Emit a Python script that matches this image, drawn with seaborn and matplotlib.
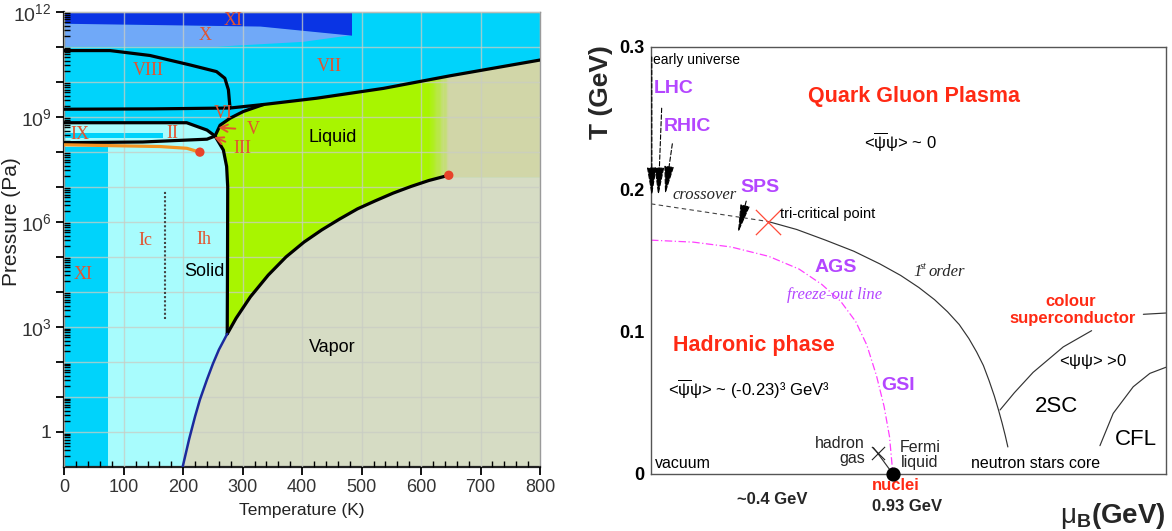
import numpy as np
import matplotlib
matplotlib.use("Agg")
import matplotlib.pyplot as plt
import seaborn as sns
from matplotlib.ticker import FixedLocator, FuncFormatter, MultipleLocator, LogLocator, NullFormatter

sns.set_theme(style="ticks")
plt.rcParams.update({
    "font.family": ["Liberation Sans", "DejaVu Sans"],
    "mathtext.fontset": "custom",
    "mathtext.rm": "Liberation Sans",
    "mathtext.it": "Liberation Sans:italic",
    "mathtext.bf": "Liberation Sans:bold",
})

# ---------------- water: temperature (K) and log10 pressure (Pa) ----------------
sub_T = [199, 210, 220, 228, 240, 250, 260, 274]
sub_logP = [-1.0, -0.2, 0.45, 0.92, 1.5, 1.95, 2.35, 2.8]

vap_T = [274, 289, 313, 343, 373, 403, 433, 463, 493, 523, 553, 583, 613, 646.6]
vap_logP = [2.8, 3.25, 3.86, 4.48, 5.0, 5.42, 5.77, 6.08, 6.37, 6.60, 6.82, 7.01, 7.18, 7.33]

melt_Ih_T = [274, 274.5, 274.8, 273, 267.5, 253.5]
melt_Ih_logP = [2.8, 5.0, 7.0, 7.58, 8.05, 8.45]

melt_VI_T = [253.5, 262, 279, 301, 335]
melt_VI_logP = [8.45, 8.76, 8.96, 9.15, 9.35]

melt_VII_T = [335, 424.5, 536.5, 648.7, 800]
melt_VII_logP = [9.35, 9.53, 9.81, 10.17, 10.62]

vi_upper_T = [0, 150, 278.7, 335]
vi_upper_logP = [9.215, 9.225, 9.25, 9.35]

viii_T = [0, 77, 144, 211.5, 256, 270, 276, 278.7]
viii_logP = [10.89, 10.89, 10.75, 10.48, 10.29, 10.10, 9.77, 9.25]

vi_lower_T = [0, 205.8, 240, 253.5]
vi_lower_logP = [8.83, 8.83, 8.62, 8.45]

ii_lower_T = [0, 132, 240, 253.5]
ii_lower_logP = [8.26, 8.28, 8.36, 8.45]

meta_T = [0, 161, 206, 228]
meta_logP = [8.20, 8.15, 8.10, 7.99]

xi_top_T = [0, 329, 483]
xi_top_logP = [11.67, 11.59, 11.33]
x_low_T = [0, 256, 402, 483]
x_low_logP = [11.0, 11.0, 11.14, 11.33]

crit_T, crit_logP = 646.6, 7.33
meta_end_T, meta_end_logP = 228, 7.99

ic_ih_T = 170
ic_ih_logP = [3.24, 6.87]

water_labels = [
    ("XI", 284, 11.74), ("X", 236, 11.32), ("VIII", 141, 10.33), ("VII", 446, 10.43),
    ("VI", 268, 9.08), ("IX", 27, 8.49), ("II", 182, 8.52),
    ("Ic", 137, 5.47), ("Ih", 235, 5.49), ("XI", 32, 4.5),
]
water_phases = [("Solid", 236, 4.59), ("Liquid", 451, 8.42), ("Vapor", 451, 2.42)]

# ---------------- QCD: baryon chemical potential (GeV) and temperature (GeV) ----------------
first_mu = [0.450, 0.560, 0.671, 0.780, 0.880, 0.960, 1.030, 1.090, 1.140, 1.185, 1.222,
            1.252, 1.278, 1.300, 1.320, 1.336, 1.350, 1.362, 1.372]
first_T = [0.1774, 0.1718, 0.1643, 0.1565, 0.1476, 0.1395, 0.131, 0.1225, 0.114, 0.105,
           0.0952, 0.0857, 0.0762, 0.0655, 0.0548, 0.045, 0.0357, 0.027, 0.019]

cross_mu = [0.0, 0.450]
cross_T = [0.1898, 0.1774]

freeze_mu = [0.0, 0.163, 0.308, 0.453, 0.569, 0.656, 0.729, 0.787, 0.830, 0.867, 0.896, 0.917, 0.93]
freeze_T = [0.1643, 0.1629, 0.1595, 0.1529, 0.1440, 0.1333, 0.1214, 0.1071, 0.0905, 0.0690, 0.0476, 0.0262, 0.0]

csc_mu = [1.342, 1.397, 1.469, 1.585, 1.694]
csc_T = [0.045, 0.0571, 0.0714, 0.0893, 0.1007]
csc2_mu = [1.893, 1.98]
csc2_T = [0.1122, 0.1131]

cfl_mu = [1.726, 1.777, 1.854, 1.918, 1.98]
cfl_T = [0.0199, 0.0426, 0.0613, 0.0707, 0.075]

lg_mu = [0.855, 0.872, 0.93]
lg_T = [0.0185, 0.0145, 0.0]

tricrit = (0.450, 0.1774)
lg_end = (0.872, 0.0145)
nuclei = (0.93, 0.0)

# arrows: (tail mu, tail T, head mu, head T)
beam_arrows = [
    (0.003, 0.293, 0.003, 0.195),
    (0.041, 0.257, 0.028, 0.195),
    (0.082, 0.232, 0.054, 0.196),
    (0.366, 0.1917, 0.334, 0.169),
]

# ---------------- colours ----------------
CYAN = "#00d3fb"
LIGHT_CYAN = "#a8fcfd"
DARK_BLUE = "#0a34e4"
MID_BLUE = "#70a9f8"
GREEN = np.array([168, 245, 0]) / 255
KHAKI = np.array([209, 214, 168]) / 255
VAPOR = "#d6dcc4"
ROMAN = "#e2542f"
PURPLE = "#b446ff"
RED = "#ff2a14"


def p(a):
    return np.power(10.0, np.asarray(a, dtype=float))


fig = plt.figure(figsize=(11.72, 5.31), dpi=100)

# ================= left panel: phase diagram of water =================
axL = fig.add_axes([64.3 / 1172, 1 - 467 / 531, (540 - 64.3) / 1172, (467 - 11.7) / 531])
axL.set_yscale("log")
axL.set_xlim(0, 800)
axL.set_ylim(1e-1, 1e12)
axL.set_facecolor(CYAN)

# liquid region
liq_T = np.r_[melt_Ih_T, melt_VI_T[1:], melt_VII_T[1:], [800, crit_T], vap_T[::-1]]
liq_P = np.r_[melt_Ih_logP, melt_VI_logP[1:], melt_VII_logP[1:], [7.27, 7.27], vap_logP[::-1]]
axL.fill(liq_T, p(liq_P), color=GREEN, lw=0, zorder=0.5)

# supercritical fluid, blending out of the liquid colour
edges = np.linspace(612, 646, 18)
for i in range(len(edges) - 1):
    f = (i + 0.5) / (len(edges) - 1)
    col = (1 - f) * GREEN + f * KHAKI
    xs = np.array([edges[i], edges[i + 1] + 0.4])
    top = np.interp(xs, melt_VII_T, melt_VII_logP)
    axL.fill_between(xs, p([6.8, 6.8]), p(top), color=col, lw=0, zorder=0.6)
xs = np.array([646, 648.7, 800])
axL.fill_between(xs, p([7.27] * 3), p(np.interp(xs, melt_VII_T, melt_VII_logP)),
                 color=KHAKI, lw=0, zorder=0.6)

# vapour region
vap_poly_T = np.r_[sub_T, vap_T[1:], [crit_T, 800, 800]]
vap_poly_P = np.r_[sub_logP, vap_logP[1:], [7.27, 7.27, -1]]
axL.fill(vap_poly_T, p(vap_poly_P), color=VAPOR, lw=0, zorder=0.7)

# ordinary ice and ice II
ice_T = np.r_[[0], vi_lower_T, melt_Ih_T[::-1], sub_T[::-1]]
ice_P = np.r_[[-1], vi_lower_logP, melt_Ih_logP[::-1], sub_logP[::-1]]
axL.fill(ice_T, p(ice_P), color=LIGHT_CYAN, lw=0, zorder=0.8)

# ice XI (low T) and ice IX
axL.fill_between([0, 74], p([-1, -1]), p([8.15, 8.15]), color=CYAN, lw=0, zorder=0.9)
axL.fill_between([0, 166], p([8.39, 8.39]), p([8.55, 8.55]), color=CYAN, lw=0, zorder=0.9)

# ice X and ice XI (very high pressure)
axL.fill(np.r_[x_low_T, xi_top_T[::-1]], p(np.r_[x_low_logP, xi_top_logP[::-1]]),
         color=MID_BLUE, lw=0, zorder=0.9)
axL.fill_between(xi_top_T, p(xi_top_logP), p([12, 12, 12]), color=DARK_BLUE, lw=0, zorder=0.9)

# phase boundaries
black_lines = [
    (vap_T, vap_logP), (melt_Ih_T, melt_Ih_logP), (melt_VI_T, melt_VI_logP),
    (melt_VII_T, melt_VII_logP), (vi_upper_T, vi_upper_logP), (viii_T, viii_logP),
    (vi_lower_T, vi_lower_logP), (ii_lower_T, ii_lower_logP),
]
for tt, lp in black_lines:
    sns.lineplot(x=tt, y=p(lp), sort=False, estimator=None, color="black", lw=2.3,
                 ax=axL, zorder=3)
sns.lineplot(x=sub_T, y=p(sub_logP), sort=False, estimator=None, color="#1c2a9c", lw=1.8,
             ax=axL, zorder=3)
sns.lineplot(x=meta_T, y=p(meta_logP), sort=False, estimator=None, color="#f39322", lw=2.3,
             ax=axL, zorder=3)
axL.plot([ic_ih_T, ic_ih_T], p(ic_ih_logP), color="#444444", ls=(0, (1, 1)), lw=1.5, zorder=3)
sns.scatterplot(x=[crit_T, meta_end_T], y=p([crit_logP, meta_end_logP]), color="#e8432a",
                s=45, edgecolor="none", ax=axL, zorder=4)

for txt, tx, ty in water_labels:
    axL.text(tx, p(ty), txt, color=ROMAN, fontsize=13, family="Liberation Serif",
             ha="center", va="center", zorder=5)
for txt, tx, ty in water_phases:
    axL.text(tx, p(ty), txt, color="black", fontsize=13, ha="center", va="center", zorder=5)

# labels for the two tiny phases near the triple points
axL.annotate("V", xy=(259, p(8.69)), xytext=(318, p(8.63)), color=ROMAN, fontsize=13,
             family="Liberation Serif", ha="center", va="center", zorder=5,
             arrowprops=dict(arrowstyle="->", color=ROMAN, lw=1.4, shrinkA=6, shrinkB=0))
axL.annotate("III", xy=(252, p(8.42)), xytext=(300, p(8.08)), color=ROMAN, fontsize=13,
             family="Liberation Serif", ha="center", va="center", zorder=5,
             arrowprops=dict(arrowstyle="->", color=ROMAN, lw=1.4, shrinkA=4, shrinkB=0))

# axes, ticks and grid
axL.set_axisbelow(False)
axL.xaxis.set_major_locator(MultipleLocator(100))
axL.xaxis.set_minor_locator(MultipleLocator(20))
axL.yaxis.set_major_locator(FixedLocator([10.0 ** k for k in range(0, 13)]))
axL.yaxis.set_minor_locator(LogLocator(base=10, subs=np.arange(2, 10), numticks=40))
axL.yaxis.set_minor_formatter(NullFormatter())


def pa_fmt(v, _):
    k = int(round(np.log10(v)))
    if k % 3:
        return ""
    return "1" if k == 0 else r"$10^{%d}$" % k


axL.yaxis.set_major_formatter(FuncFormatter(pa_fmt))
axL.grid(True, which="major", color="#c9cdc4", lw=1.0, alpha=0.75)
axL.tick_params(which="major", direction="out", length=6, width=1.3, color="black",
                labelcolor="#333333", pad=3)
axL.tick_params(axis="x", which="major", labelsize=13)
axL.tick_params(axis="y", which="major", labelsize=14)
axL.tick_params(which="minor", direction="in", length=4, width=1.0, color="black")
for s in ("bottom", "left"):
    axL.spines[s].set_color("#222222")
    axL.spines[s].set_linewidth(1.6)
for s in ("top", "right"):
    axL.spines[s].set_color("#9a9a9a")
    axL.spines[s].set_linewidth(1.0)
axL.set_xlabel("Temperature (K)", fontsize=12.5, color="#222222")
axL.set_ylabel("Pressure (Pa)", fontsize=15, color="#222222")
axL.xaxis.set_label_coords(0.5, -0.08)
axL.yaxis.set_label_coords(-0.092, 0.54)

# ================= right panel: QCD phase diagram =================
axR = fig.add_axes([651 / 1172, 1 - 474 / 531, 515 / 1172, 427 / 531])
axR.set_xlim(0, 1.98)
axR.set_ylim(0, 0.3)
axR.set_facecolor("white")
for s in axR.spines.values():
    s.set_color("#555555")
    s.set_linewidth(1.0)
axR.set_xticks([])
axR.set_yticks([0, 0.1, 0.2, 0.3])
axR.set_yticklabels(["0", "0.1", "0.2", "0.3"], fontweight="bold")
axR.tick_params(axis="y", length=0, pad=5, labelsize=13, labelcolor="black")
axR.set_xlabel("")
axR.set_ylabel("")

sns.lineplot(x=first_mu, y=first_T, sort=False, estimator=None, color="#333333", lw=0.85, ax=axR)
sns.lineplot(x=cross_mu, y=cross_T, sort=False, estimator=None, color="#444444", lw=0.8,
             ax=axR, linestyle=(0, (4, 3)))
sns.lineplot(x=freeze_mu, y=freeze_T, sort=False, estimator=None, color="#ff40ff", lw=0.9,
             ax=axR, linestyle=(0, (6, 2, 1, 2)))
for mu, tt in ((csc_mu, csc_T), (csc2_mu, csc2_T), (cfl_mu, cfl_T), (lg_mu, lg_T)):
    sns.lineplot(x=mu, y=tt, sort=False, estimator=None, color="#333333", lw=0.85, ax=axR)

for x0, y0, x1, y1 in beam_arrows:
    axR.annotate("", xy=(x1, y1), xytext=(x0, y0),
                 arrowprops=dict(arrowstyle="-|>,head_length=1.8,head_width=0.3",
                                 lw=0.8, ls=(0, (4, 2)), color="black", fc="black",
                                 shrinkA=0, shrinkB=0, mutation_scale=10))

sns.scatterplot(x=[tricrit[0]], y=[tricrit[1]], marker="x", s=330, color="#ff4a38",
                linewidth=0.9, ax=axR, zorder=4)
sns.scatterplot(x=[lg_end[0]], y=[lg_end[1]], marker="x", s=90, color="#222222",
                linewidth=0.8, ax=axR, zorder=4)
axR.scatter([nuclei[0]], [nuclei[1]], s=85, color="black", zorder=6, clip_on=False)

psibar = r"$\mathrm{\overline{\psi}\psi}$"
texts = [
    (0.007, 0.291, "early universe", "black", 10, "normal", "left"),
    (0.010, 0.271, "LHC", PURPLE, 14, "bold", "left"),
    (0.049, 0.244, "RHIC", PURPLE, 14, "bold", "left"),
    (0.605, 0.265, "Quark Gluon Plasma", RED, 15.5, "bold", "left"),
    (0.819, 0.233, "<" + psibar + "> ~ 0", "black", 12, "normal", "left"),
    (0.344, 0.2015, "SPS", PURPLE, 14, "bold", "left"),
    (0.496, 0.183, "tri-critical point", "black", 10.5, "normal", "left"),
    (0.630, 0.145, "AGS", PURPLE, 14, "bold", "left"),
    (1.614, 0.1214, "colour", RED, 12, "bold", "center"),
    (1.623, 0.1095, "superconductor", RED, 12, "bold", "center"),
    (0.083, 0.0905, "Hadronic phase", RED, 15.5, "bold", "left"),
    (1.568, 0.079, r"<$\mathrm{\psi\psi}$> >0", "black", 12, "normal", "left"),
    (0.064, 0.0595, "<" + psibar + "> ~ (-0.23)³ GeV³", "black", 12, "normal", "left"),
    (0.885, 0.062, "GSI", PURPLE, 14, "bold", "left"),
    (1.476, 0.0476, "2SC", "black", 16, "normal", "left"),
    (1.785, 0.0245, "CFL", "black", 16, "normal", "left"),
    (0.017, 0.0071, "vacuum", "black", 11.5, "normal", "left"),
    (1.232, 0.0071, "neutron stars core", "black", 11.5, "normal", "left"),
]
for x, y, s, c, fs, fw, ha in texts:
    axR.text(x, y, s, color=c, fontsize=fs, fontweight=fw, ha=ha, va="center", zorder=5)

axR.text(0.823, 0.0163, "hadron\ngas", fontsize=11.5, ha="right", va="center",
         multialignment="right", linespacing=1.0)
axR.text(1.034, 0.0134, "Fermi\nliquid", fontsize=11.5, ha="center", va="center",
         multialignment="center", linespacing=1.0)

serif = "Liberation Serif"
axR.text(0.083, 0.1957, "crossover", fontsize=12, style="italic", family=serif, va="center")
axR.text(0.523, 0.1255, "freeze-out line", fontsize=12, style="italic", family=serif,
         color=PURPLE, va="center")
axR.text(1.007, 0.1417, "1", fontsize=12, style="italic", family=serif, va="center")
axR.annotate("st", xy=(1.007, 0.1417), xytext=(5, 4), textcoords="offset points",
             fontsize=7.5, style="italic", family=serif, va="center")
axR.text(1.066, 0.1417, "order", fontsize=12, style="italic", family=serif, va="center")

axR.text(0.942, -0.0082, "nuclei", color=RED, fontsize=12, fontweight="bold",
         ha="center", va="center")
axR.text(0.4645, -0.0179, "~0.4 GeV", fontsize=12, fontweight="bold", ha="center", va="center")
axR.text(0.985, -0.0225, "0.93 GeV", fontsize=12, fontweight="bold", ha="center", va="center")
axR.text(1.0, -0.0295, r"$\mathrm{\mu}_{\mathbf{B}}$(GeV)", transform=axR.get_yaxis_transform(),
         fontsize=20, fontweight="bold", ha="right", va="center")
axR.text(-0.097, 0.895, "T (GeV)", transform=axR.transAxes, fontsize=19,
         fontweight="bold", rotation=90, ha="center", va="center")

fig.savefig("out.png", dpi=100)
